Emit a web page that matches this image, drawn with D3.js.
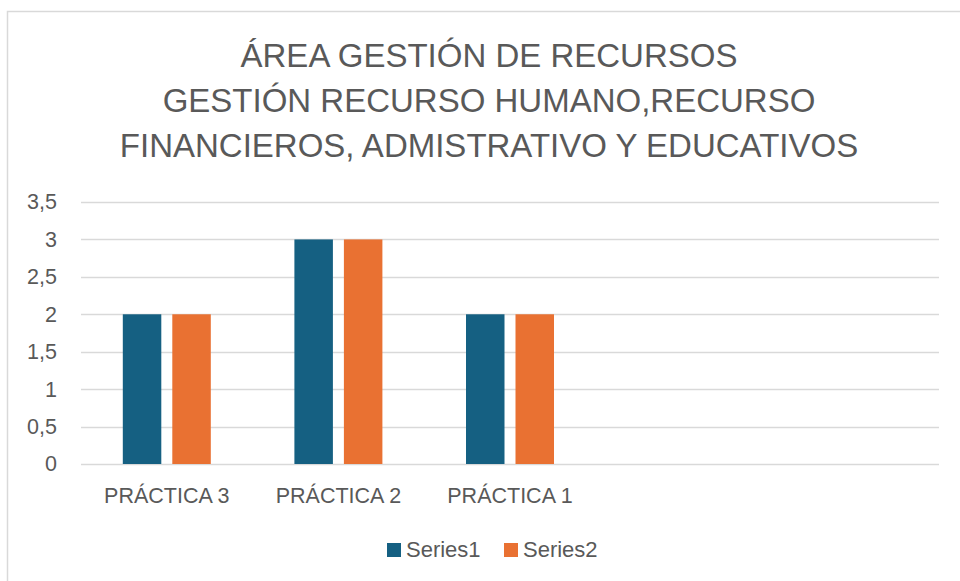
<!DOCTYPE html>
<html>
<head>
<meta charset="utf-8">
<script src="https://cdn.jsdelivr.net/npm/d3@7"></script>
<style>
  body { margin: 0; background: #fff; }
  text { font-family: "Liberation Sans", Arial, sans-serif; }
</style>
</head>
<body>
<div id="chart"></div>
<script>
// chart data
var categories = ["PRÁCTICA 3", "PRÁCTICA 2", "PRÁCTICA 1", "", " "];
var series1 = [2, 3, 2, null, null];
var series2 = [2, 3, 2, null, null];
var seriesNames = ["Series1", "Series2"];
var seriesColors = ["#156082", "#E97132"];
var yTicks = [0, 0.5, 1, 1.5, 2, 2.5, 3, 3.5];
var titleLines = ["ÁREA GESTIÓN DE RECURSOS",
                  "GESTIÓN RECURSO HUMANO,RECURSO",
                  "FINANCIEROS, ADMISTRATIVO Y EDUCATIVOS"];

var W = 960, H = 581;
var margin = {top: 202, right: 20, bottom: 117, left: 81};
var width = 939 - margin.left,
    height = 464 - margin.top;

var svg = d3.select("#chart").append("svg")
    .attr("width", W)
    .attr("height", H);

// chart frame
svg.append("path")
  .attr("d", "M7.5," + H + "V11.5H" + W)
  .attr("fill", "none")
  .attr("stroke", "#d9d9d9")
  .attr("stroke-width", 1.5);

// title
svg.append("g").selectAll("text")
  .data(titleLines)
  .enter().append("text")
    .attr("x", 489)
    .attr("y", function(d, i) { return 67 + i * 45; })
    .attr("text-anchor", "middle")
    .style("font-size", "33px")
    .attr("fill", "#595959")
    .text(function(d) { return d; });

var g = svg.append("g")
  .attr("transform", "translate(" + margin.left + "," + margin.top + ")");

var x0 = d3.scaleBand().domain(categories).range([0, width]).padding(0);
var y = d3.scaleLinear().domain([0, 3.5]).range([height, 0]);

// gridlines
g.selectAll(".grid")
  .data(yTicks)
  .enter().append("line")
    .attr("class", "grid")
    .attr("x1", 0)
    .attr("x2", width)
    .attr("y1", function(d) { return Math.round(y(d)) + 0.5; })
    .attr("y2", function(d) { return Math.round(y(d)) + 0.5; })
    .attr("stroke", "#d9d9d9")
    .attr("stroke-width", 1.5);

// y labels
var yAxis = d3.axisLeft(y).tickValues(yTicks).tickSize(0).tickPadding(24)
  .tickFormat(function(d) { return String(d).replace(".", ","); });
var ya = g.append("g").call(yAxis);
ya.select(".domain").remove();
ya.selectAll("text")
  .style("font-size", "21.5px")
  .attr("fill", "#595959");

// x labels
var xAxis = d3.axisBottom(x0).tickSize(0).tickPadding(24);
var xa = g.append("g").attr("transform", "translate(0," + height + ")").call(xAxis);
xa.select(".domain").remove();
xa.selectAll("text")
  .style("font-size", "21.5px")
  .attr("fill", "#595959");

// bars
var barW = 38.5, gap = 11;
var rows = [];
categories.forEach(function(c, i) {
  [series1, series2].forEach(function(s, k) {
    if (s[i] != null) rows.push({cat: c, k: k, v: s[i]});
  });
});

g.selectAll(".bar")
  .data(rows)
  .enter().append("rect")
    .attr("class", "bar")
    .attr("x", function(d) {
      var c = x0(d.cat) + x0.bandwidth() / 2;
      return d.k === 0 ? c - gap / 2 - barW : c + gap / 2;
    })
    .attr("width", barW)
    .attr("y", function(d) { return y(d.v); })
    .attr("height", function(d) { return height - y(d.v); })
    .attr("fill", function(d) { return seriesColors[d.k]; });

// legend
var legend = svg.append("g").attr("transform", "translate(387,549)");
var items = legend.selectAll("g")
  .data(seriesNames)
  .enter().append("g")
    .attr("transform", function(d, i) { return "translate(" + (i * 117) + ",0)"; });
items.append("rect")
  .attr("x", 0).attr("y", -6)
  .attr("width", 14).attr("height", 14)
  .attr("fill", function(d, i) { return seriesColors[i]; });
items.append("text")
  .attr("x", 19)
  .attr("y", 8)
  .style("font-size", "22px")
  .attr("fill", "#595959")
  .text(function(d) { return d; });
</script>
</body>
</html>
